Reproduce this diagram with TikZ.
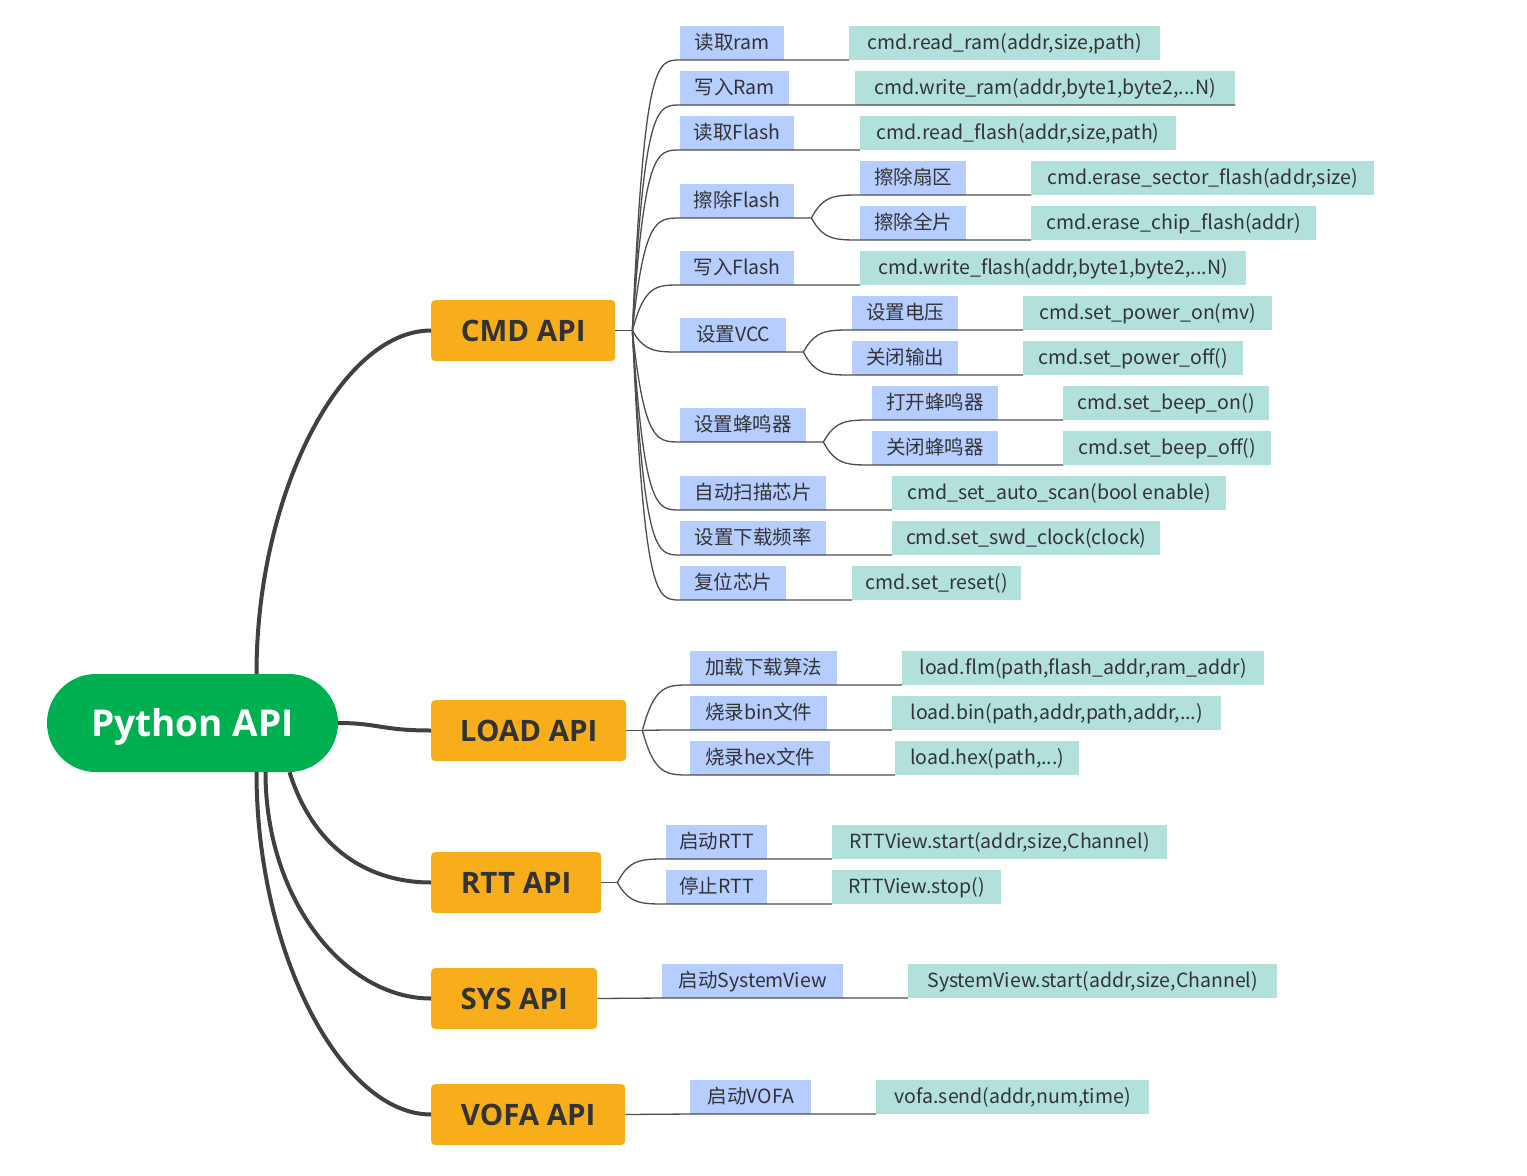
\documentclass[tikz,border=0pt]{standalone}
\usepackage{fontspec}
\setmainfont{Noto Sans CJK SC}
\newfontfamily\headfont{Open Sans}
\usetikzlibrary{calc}

\definecolor{rootgreen}{RGB}{0,176,80}
\definecolor{topicorange}{RGB}{248,173,27}
\definecolor{lblblue}{RGB}{181,205,255}
\definecolor{codeteal}{RGB}{178,225,219}
\definecolor{txtdark}{RGB}{51,51,51}
\definecolor{linegray}{RGB}{77,77,77}
\definecolor{trunkgray}{RGB}{64,64,64}

\tikzset{
  fork/.style={to path={.. controls ($(\tikztostart|-\tikztotarget)+(12pt,0)$) and ($(\tikztostart|-\tikztotarget)+(24pt,0)$) .. (\tikztotarget)}}
}

\begin{document}
\begin{tikzpicture}[x=1pt, y=-1pt,
    root/.style={fill=rootgreen, rounded corners=49pt, minimum width=291pt, minimum height=98pt,
      inner sep=0pt, text height=30pt, text depth=4pt, text=white,
      font=\headfont\bfseries\fontsize{37}{37}\selectfont},
    topic/.style={fill=topicorange, rounded corners=4pt, minimum height=61pt, inner sep=0pt,
      text height=23pt, text depth=2pt, anchor=west, text=txtdark,
      font=\headfont\bfseries\fontsize{29.5}{29.5}\selectfont},
    lbl/.style={fill=lblblue, minimum height=34pt, inner sep=0pt, anchor=south west,
      text height=17pt, text depth=3pt, text=txtdark, font=\fontsize{19.5}{19.5}\selectfont},
    code/.style={lbl, fill=codeteal},
    branch/.style={draw=linegray, line width=1.3pt},
    trunk/.style={draw=trunkgray, line width=4pt}]
  \useasboundingbox (0,0) rectangle (1527,1176);

  % root and topics
  \node[root] (py) at (192.5,723) {Python API};
  \node[topic, minimum width=184pt] (cmd) at (431,330.5) {CMD API};
  \node[topic, minimum width=195pt] (load) at (431,730.5) {LOAD API};
  \node[topic, minimum width=170pt] (rtt) at (431,882.5) {RTT API};
  \node[topic, minimum width=166pt] (sys) at (431,998.5) {SYS API};
  \node[topic, minimum width=194pt] (vofa) at (431,1114.5) {VOFA API};

  \draw[trunk] ([xshift=64pt]py.north) .. controls +(0,-180) and +(-90,0) .. (cmd.west);
  \draw[trunk] (py.east) .. controls +(40,0) and +(-50,0) .. (load.west);
  \draw[trunk] ([xshift=97pt]py.south) .. controls +(28,88) and +(-50,0) .. (rtt.west);
  \draw[trunk] ([xshift=73pt]py.south) .. controls +(0,128) and +(-86,0) .. (sys.west);
  \draw[trunk] ([xshift=64pt]py.south) .. controls +(0,180) and +(-90,0) .. (vofa.west);

  % CMD API
  \node[lbl, minimum width=104pt] (rdram) at (680,60) {读取ram};
  \node[code, minimum width=311pt] (rdramc) at (849,60) {cmd.read\_ram(addr,size,path)};
  \node[lbl, minimum width=109pt] (wrram) at (680,105) {写入Ram};
  \node[code, minimum width=380pt] (wrramc) at (855,105) {cmd.write\_ram(addr,byte1,byte2,...N)};
  \node[lbl, minimum width=114pt] (rdfl) at (680,150) {读取Flash};
  \node[code, minimum width=316pt] (rdflc) at (860,150) {cmd.read\_flash(addr,size,path)};
  \node[lbl, minimum width=114pt] (erfl) at (680,218) {擦除Flash};
  \node[lbl, minimum width=106pt] (ersec) at (860,195) {擦除扇区};
  \node[code, minimum width=343pt] (ersecc) at (1031,195) {cmd.erase\_sector\_flash(addr,size)};
  \node[lbl, minimum width=106pt] (erchip) at (860,240) {擦除全片};
  \node[code, minimum width=285pt] (erchipc) at (1031,240) {cmd.erase\_chip\_flash(addr)};
  \node[lbl, minimum width=114pt] (wrfl) at (680,285) {写入Flash};
  \node[code, minimum width=386pt] (wrflc) at (860,285) {cmd.write\_flash(addr,byte1,byte2,...N)};
  \node[lbl, minimum width=106pt] (vcc) at (680,352) {设置VCC};
  \node[lbl, minimum width=106pt] (pwon) at (852,330) {设置电压};
  \node[code, minimum width=249pt] (pwonc) at (1023,330) {cmd.set\_power\_on(mv)};
  \node[lbl, minimum width=106pt] (pwoff) at (852,375) {关闭输出};
  \node[code, minimum width=220pt] (pwoffc) at (1023,375) {cmd.set\_power\_off()};
  \node[lbl, minimum width=126pt] (beep) at (680,442) {设置蜂鸣器};
  \node[lbl, minimum width=126pt] (bpon) at (872,420) {打开蜂鸣器};
  \node[code, minimum width=206pt] (bponc) at (1063,420) {cmd.set\_beep\_on()};
  \node[lbl, minimum width=126pt] (bpoff) at (872,465) {关闭蜂鸣器};
  \node[code, minimum width=208pt] (bpoffc) at (1063,465) {cmd.set\_beep\_off()};
  \node[lbl, minimum width=146pt] (scan) at (680,510) {自动扫描芯片};
  \node[code, minimum width=334pt] (scanc) at (892,510) {cmd\_set\_auto\_scan(bool enable)};
  \node[lbl, minimum width=146pt] (swd) at (680,555) {设置下载频率};
  \node[code, minimum width=268pt] (swdc) at (892,555) {cmd.set\_swd\_clock(clock)};
  \node[lbl, minimum width=106pt] (rst) at (680,600) {复位芯片};
  \node[code, minimum width=169pt] (rstc) at (852,600) {cmd.set\_reset()};

  \coordinate (cmdh) at ([xshift=17pt]cmd.east);
  \coordinate (erflh) at ([xshift=17pt]erfl.south east);
  \coordinate (vcch) at ([xshift=17pt]vcc.south east);
  \coordinate (beeph) at ([xshift=17pt]beep.south east);
  \draw[branch] (cmd.east) -- (cmdh);
  \draw[branch] (cmdh) to[fork] (rdram.south west) -- (rdram.south east) -- (rdramc.south west);
  \draw[branch] (cmdh) to[fork] (wrram.south west) -- (wrram.south east) -- (wrramc.south west) -- (wrramc.south east);
  \draw[branch] (cmdh) to[fork] (rdfl.south west) -- (rdfl.south east) -- (rdflc.south west);
  \draw[branch] (cmdh) to[fork] (erfl.south west) -- (erfl.south east) -- (erflh);
  \draw[branch] (erflh) to[fork] (ersec.south west) -- (ersec.south east) -- (ersecc.south west);
  \draw[branch] (erflh) to[fork] (erchip.south west) -- (erchip.south east) -- (erchipc.south west);
  \draw[branch] (cmdh) to[fork] (wrfl.south west) -- (wrfl.south east) -- (wrflc.south west);
  \draw[branch] (cmdh) to[fork] (vcc.south west) -- (vcc.south east) -- (vcch);
  \draw[branch] (vcch) to[fork] (pwon.south west) -- (pwon.south east) -- (pwonc.south west);
  \draw[branch] (vcch) to[fork] (pwoff.south west) -- (pwoff.south east) -- (pwoffc.south west);
  \draw[branch] (cmdh) to[fork] (beep.south west) -- (beep.south east) -- (beeph);
  \draw[branch] (beeph) to[fork] (bpon.south west) -- (bpon.south east) -- (bponc.south west);
  \draw[branch] (beeph) to[fork] (bpoff.south west) -- (bpoff.south east) -- (bpoffc.south west);
  \draw[branch] (cmdh) to[fork] (scan.south west) -- (scan.south east) -- (scanc.south west);
  \draw[branch] (cmdh) to[fork] (swd.south west) -- (swd.south east) -- (swdc.south west);
  \draw[branch] (cmdh) to[fork] (rst.south west) -- (rst.south east) -- (rstc.south west);

  % LOAD API
  \node[lbl, minimum width=147pt] (flm) at (690,685) {加载下载算法};
  \node[code, minimum width=362pt] (flmc) at (902,685) {load.flm(path,flash\_addr,ram\_addr)};
  \node[lbl, minimum width=137pt] (bin) at (690,730) {烧录bin文件};
  \node[code, minimum width=329pt] (binc) at (892,730) {load.bin(path,addr,path,addr,...)};
  \node[lbl, minimum width=140pt] (hex) at (690,775) {烧录hex文件};
  \node[code, minimum width=184pt] (hexc) at (895,775) {load.hex(path,...)};

  \coordinate (loadh) at ([xshift=16pt]load.east);
  \draw[branch] (load.east) -- (loadh);
  \draw[branch] (loadh) to[fork] (flm.south west) -- (flm.south east) -- (flmc.south west);
  \draw[branch] (loadh) to[fork] (bin.south west) -- (bin.south east) -- (binc.south west);
  \draw[branch] (loadh) to[fork] (hex.south west) -- (hex.south east) -- (hexc.south west);

  % RTT API
  \node[lbl, minimum width=101pt] (rtton) at (666,859) {启动RTT};
  \node[code, minimum width=335pt] (rttonc) at (832,859) {RTTView.start(addr,size,Channel)};
  \node[lbl, minimum width=101pt] (rttoff) at (666,904) {停止RTT};
  \node[code, minimum width=169pt] (rttoffc) at (832,904) {RTTView.stop()};

  \coordinate (rtth) at ([xshift=16pt]rtt.east);
  \draw[branch] (rtt.east) -- (rtth);
  \draw[branch] (rtth) to[fork] (rtton.south west) -- (rtton.south east) -- (rttonc.south west);
  \draw[branch] (rtth) to[fork] (rttoff.south west) -- (rttoff.south east) -- (rttoffc.south west);

  % SYS API
  \node[lbl, minimum width=181pt] (sysv) at (662,998) {启动SystemView};
  \node[code, minimum width=369pt] (sysvc) at (908,998) {SystemView.start(addr,size,Channel)};
  \draw[branch] (sys.east) -- (sysv.south west) -- (sysv.south east) -- (sysvc.south west);

  % VOFA API
  \node[lbl, minimum width=121pt] (vofs) at (690,1114) {启动VOFA};
  \node[code, minimum width=273pt] (vofsc) at (876,1114) {vofa.send(addr,num,time)};
  \draw[branch] (vofa.east) -- (vofs.south west) -- (vofs.south east) -- (vofsc.south west);
\end{tikzpicture}
\end{document}
